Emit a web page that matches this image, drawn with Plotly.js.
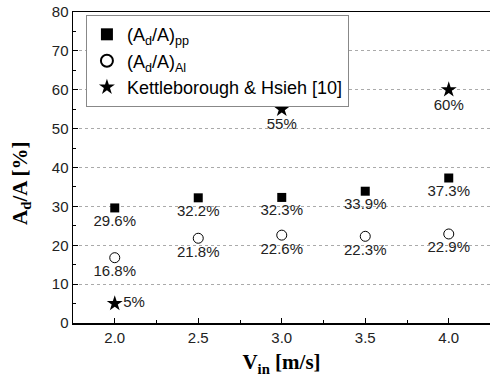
<!DOCTYPE html>
<html><head><meta charset="utf-8">
<script src="https://cdn.plot.ly/plotly-3.0.1.min.js"></script>
<style>html,body{margin:0;padding:0;background:#fff}</style>
</head><body>
<div id="chart" style="width:490px;height:383px"></div>
<script>
var vin = [2.0, 2.5, 3.0, 3.5, 4.0];
var ppValues = [29.6, 32.2, 32.3, 33.9, 37.3];
var alValues = [16.8, 21.8, 22.6, 22.3, 22.9];
var kVin = [2.0, 3.0, 4.0];
var kValues = [5, 55, 60];
var ppLabels = ['29.6%', '32.2%', '32.3%', '33.9%', '37.3%'];
var alLabels = ['16.8%', '21.8%', '22.6%', '22.3%', '22.9%'];
var kLabels = ['5%', '55%', '60%'];
var kPos = ['middle right', 'bottom center', 'bottom center'];

var tf = {family: 'Liberation Sans, Arial, sans-serif', size: 15, color: '#222'};
var traces = [
  {x: vin, y: ppValues, mode: 'markers+text', name: '(A<sub>d</sub>/A)<sub>pp</sub>',
   marker: {symbol: 'square', size: 9, color: '#000'},
   text: ppLabels, textposition: 'bottom center', textfont: tf},
  {x: vin, y: alValues, mode: 'markers+text', name: '(A<sub>d</sub>/A)<sub>Al</sub>',
   marker: {symbol: 'circle-open', size: 10, color: '#000', line: {width: 1}},
   text: alLabels, textposition: 'bottom center', textfont: tf},
  {x: kVin, y: kValues, mode: 'markers+text', name: 'Kettleborough &amp; Hsieh [10]',
   marker: {symbol: 'star', size: 12, color: '#000'},
   text: kLabels, textposition: kPos, textfont: tf}
];

var layout = {
  width: 490, height: 383,
  margin: {l: 73, r: 0, t: 12, b: 60},
  paper_bgcolor: '#fff', plot_bgcolor: '#fff',
  showlegend: true,
  legend: {x: 0.031, y: 0.99, xanchor: 'left', yanchor: 'top',
    bgcolor: '#fff', bordercolor: '#888', borderwidth: 1,
    font: {family: 'Liberation Sans, Arial, sans-serif', size: 18, color: '#000'},
    itemsizing: 'constant', tracegroupgap: 0},
  xaxis: {range: [1.75, 4.247], tickvals: vin, tickformat: '.1f',
    showline: true, linecolor: '#000', linewidth: 1.5, mirror: true,
    ticks: 'inside', ticklen: 5, tickcolor: '#000',
    minor: {dtick: 0.25, tick0: 1.75, ticks: 'inside', ticklen: 3, tickcolor: '#000', showgrid: false},
    showgrid: false, zeroline: false,
    tickfont: {family: 'Liberation Sans, Arial, sans-serif', size: 15, color: '#222'},
    title: {text: '<b>V<sub>in</sub> [m/s]</b>', standoff: 10,
      font: {family: 'Liberation Serif, Times New Roman, serif', size: 21, color: '#000'}}},
  yaxis: {range: [0, 80], dtick: 10,
    showline: true, linecolor: '#000', linewidth: 1.5, mirror: false,
    ticks: 'inside', ticklen: 5, tickcolor: '#000',
    minor: {dtick: 5, ticks: 'inside', ticklen: 3, tickcolor: '#000', showgrid: false},
    showgrid: true, gridcolor: '#aaa', griddash: 'dot', gridwidth: 1, zeroline: false,
    tickfont: {family: 'Liberation Sans, Arial, sans-serif', size: 15, color: '#222'}},
  annotations: [{text: '<b>A<sub>d</sub>/A [%]</b>', textangle: -90,
    xref: 'paper', yref: 'paper', x: -0.125, y: 0.45, xanchor: 'center', yanchor: 'middle',
    showarrow: false,
    font: {family: 'Liberation Serif, Times New Roman, serif', size: 21, color: '#000'}}]
};
Plotly.newPlot('chart', traces, layout, {displayModeBar: false, staticPlot: true});
</script>
</body></html>
